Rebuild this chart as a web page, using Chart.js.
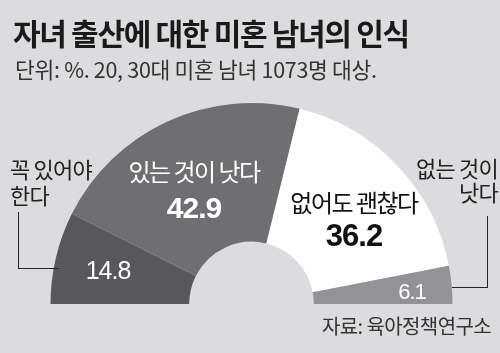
<!DOCTYPE html>
<html>
<head>
<meta charset="utf-8">
<script src="https://cdn.jsdelivr.net/npm/chart.js@4"></script>
<style>
  html, body { margin: 0; padding: 0; }
  body { width: 500px; height: 353px; background: #dcdcde; position: relative; overflow: hidden;
         font-family: "Noto Sans CJK KR", "Noto Sans", sans-serif; color: #222; }
  #chart { position: absolute; left: 0; top: 0; }
  .t { position: absolute; white-space: nowrap; line-height: 1; }
  .title { left: 13px; top: 17px; font-size: 30px; font-weight: 700; letter-spacing: -1.3px; color: #1a1a1a; }
  .sub { left: 15px; top: 58px; font-size: 21.5px; letter-spacing: -0.3px; color: #333; }
  .src { left: 322px; top: 316px; font-size: 20px; letter-spacing: -0.6px; color: #333; }
  .ext { font-size: 22px; line-height: 26px; letter-spacing: -0.8px; color: #222; }
  .in { transform: translateX(-50%); text-align: center; }
  .num { font-family: "Liberation Sans", Arial, sans-serif; letter-spacing: -1px; }
  .line { position: absolute; border-color: #222; border-style: solid; border-width: 0; }
</style>
</head>
<body>
<canvas id="chart" width="500" height="353"></canvas>

<div class="t title">자녀 출산에 대한 미혼 남녀의 인식</div>
<div class="t sub">단위: %. 20, 30대 미혼 남녀 1073명 대상.</div>
<div class="t src">자료: 육아정책연구소</div>

<div class="t ext" style="left:10px; top:155px;">꼭 있어야<br>한다</div>
<div class="t ext" style="right:2px; top:155px; text-align:right; line-height:24px;">없는 것이<br>낫다</div>
<div class="line" style="left:18px; top:212px; width:40px; height:56px; border-left-width:1.5px; border-bottom-width:1.5px;"></div>
<div class="line" style="left:452px; top:216px; width:35px; height:71px; border-right-width:1.5px; border-bottom-width:1.5px;"></div>

<div id="labels"></div>

<script>
const categories = ['꼭 있어야 한다', '있는 것이 낫다', '없어도 괜찮다', '없는 것이 낫다'];
const values = [14.8, 42.9, 36.2, 6.1];
const segmentColors = ['#58585a', '#6f6f71', '#ffffff', '#939395'];

// in-segment label placement (text only)
const inLabels = [
  { title: null, x: 108, ty: 0, ny: 258, color: '#fff', size: 25, bold: false },
  { title: categories[1], x: 194, ty: 159, ny: 193, color: '#fff', size: 30, bold: true },
  { title: categories[2], x: 354, ty: 190, ny: 220, color: '#111', size: 31, bold: true },
  { title: null, x: 412, ty: 0, ny: 281, color: '#fff', size: 22, bold: false },
];

const labelBox = document.getElementById('labels');
values.forEach((v, i) => {
  const l = inLabels[i];
  if (l.title) {
    const t = document.createElement('div');
    t.className = 't in';
    t.style.cssText = `left:${l.x}px;top:${l.ty}px;color:${l.color};font-size:24px;letter-spacing:-1.5px;`;
    t.textContent = l.title;
    labelBox.appendChild(t);
  }
  const n = document.createElement('div');
  n.className = 't in num';
  n.style.cssText = `left:${l.x}px;top:${l.ny}px;color:${l.color};font-size:${l.size}px;font-weight:${l.bold ? 700 : 400};`;
  n.textContent = v.toFixed(1);
  labelBox.appendChild(n);
});

new Chart(document.getElementById('chart'), {
  type: 'doughnut',
  data: {
    labels: categories,
    datasets: [{
      data: values,
      backgroundColor: segmentColors,
      borderWidth: 0,
    }]
  },
  options: {
    responsive: false,
    animation: false,
    rotation: -90,
    circumference: 180,
    cutout: '31%',
    layout: { padding: { left: 50, right: 47, top: 103, bottom: 49 } },
    plugins: {
      legend: { display: false },
      tooltip: { enabled: false },
    }
  }
});
</script>
</body>
</html>
